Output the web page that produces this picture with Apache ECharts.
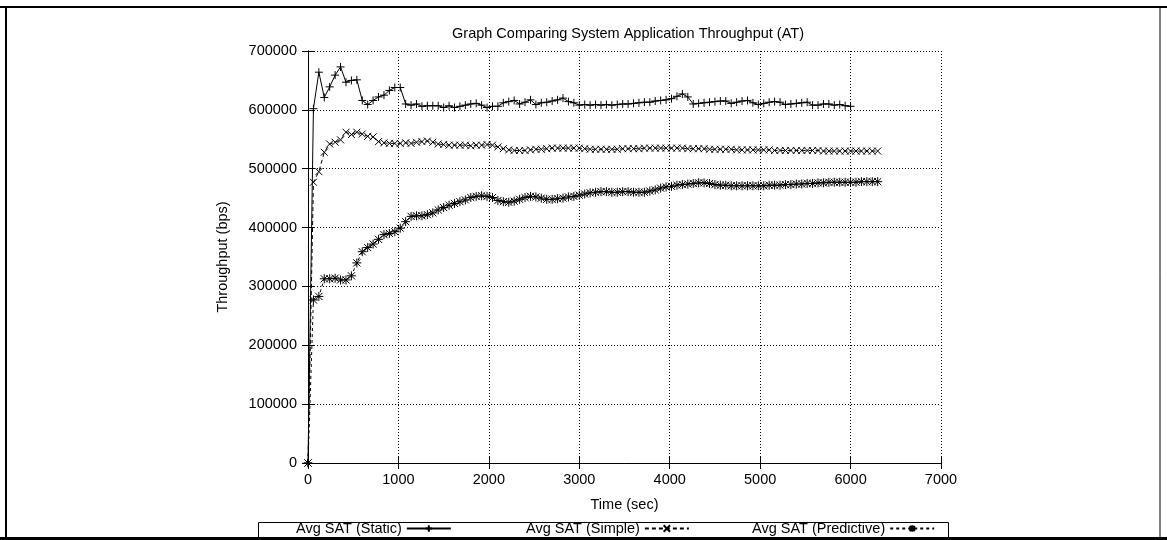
<!DOCTYPE html>
<html>
<head>
<meta charset="utf-8">
<script src="https://cdn.jsdelivr.net/npm/echarts@6/dist/echarts.min.js"></script>
<style>
html,body{margin:0;padding:0;background:#fff}
#main{width:1167px;height:540px}
</style>
</head>
<body>
<div id="main"></div>
<script>
// sample times (sec)
var timeSec = [0,60,120,180,240,300,360,420,480,540,600,660,720,780,840,900,960,1020,1080,1140,
  1200,1260,1320,1380,1440,1500,1560,1620,1680,1740,1800,1860,1920,1980,2040,2100,2160,2220,2280,2340,
  2400,2460,2520,2580,2640,2700,2760,2820,2880,2940,3000,3060,3120,3180,3240,3300,3360,3420,3480,3540,
  3600,3660,3720,3780,3840,3900,3960,4020,4080,4140,4200,4260,4320,4380,4440,4500,4560,4620,4680,4740,
  4800,4860,4920,4980,5040,5100,5160,5220,5280,5340,5400,5460,5520,5580,5640,5700,5760,5820,5880,5940,
  6000,6060,6120,6180,6240,6300];

var staticSAT = [0,602000,664000,621000,639000,659000,673000,647000,650000,651000,616000,609000,616000,622000,625000,633000,638000,638000,610000,608000,
  610000,606000,607000,607000,607000,604000,607000,604000,606000,608000,610000,611000,608000,604000,606000,606000,612000,614000,616000,610000,
  613000,617000,609000,612000,613000,615000,617000,620000,614000,612000,608000,609000,608000,609000,608000,609000,608000,609000,610000,610000,
  611000,612000,613000,613000,615000,616000,617000,619000,623000,627000,622000,610000,611000,612000,613000,614000,615000,615000,611000,613000,
  615000,616000,612000,609000,611000,613000,614000,613000,609000,610000,611000,612000,613000,608000,608000,610000,610000,608000,609000,607000,
  606000];

var simpleSAT = [0,477000,495000,528000,542000,545000,549000,562000,558000,562000,559000,555000,554000,546000,544000,543000,543000,543000,544000,543000,
  545000,546000,547000,545000,542000,541000,540000,540000,540000,540000,539000,540000,540000,541000,540000,537000,534000,532000,531000,531000,
  531000,532000,533000,533000,534000,535000,535000,535000,535000,535000,535000,534000,533000,533000,533000,533000,533000,533000,534000,534000,
  534000,534000,535000,535000,535000,535000,535000,535000,535000,535000,534000,534000,534000,534000,533000,533000,533000,533000,533000,532000,
  532000,532000,532000,532000,532000,532000,531000,531000,531000,531000,531000,531000,531000,531000,531000,530000,530000,530000,530000,530000,
  530000,530000,530000,530000,530000,530000];

var predictiveSAT = [0,277000,283000,313000,313000,314000,311000,311000,318000,340000,359000,366000,372000,380000,388000,390000,393000,399000,410000,419000,
  420000,420000,422000,425000,430000,434000,438000,441000,444000,447000,451000,453000,454000,453000,451000,446000,444000,443000,445000,448000,
  451000,453000,452000,450000,448000,448000,449000,450000,452000,453000,455000,457000,459000,460000,461000,461000,460000,460000,461000,461000,
  460000,460000,460000,462000,464000,467000,469000,470000,472000,473000,474000,475000,476000,476000,475000,473000,472000,472000,471000,471000,
  471000,471000,471000,471000,471000,472000,472000,472000,473000,473000,474000,474000,475000,475000,476000,476000,477000,477000,477000,477000,
  477000,477000,478000,478000,478000,478000];

var seriesNames = ['Avg SAT (Static)', 'Avg SAT (Simple)', 'Avg SAT (Predictive)'];

function pairs(vals) {
  return vals.map(function (v, i) { return [timeSec[i], v]; });
}

var FONT = 'Liberation Sans';
var FS = 14.5;
var plusSym = 'path://M0,5L10,5M5,0L5,10';
var crossSym = 'path://M0,0L10,10M10,0L0,10';
var starSym = 'path://M0,5L10,5M5,0L5,10M1,1L9,9M9,1L1,9';

var chart = echarts.init(document.getElementById('main'));

function mkSeries(name, vals, sym, size, dash) {
  return {
    name: name,
    type: 'line',
    data: pairs(vals),
    symbol: sym,
    symbolSize: size,
    showAllSymbol: true,
    animation: false,
    lineStyle: { color: '#000', width: 1, type: dash },
    itemStyle: { color: '#000', borderColor: '#000', borderWidth: 1 }
  };
}

function mkLegend(name, left) {
  return {
    data: [name],
    left: left,
    top: 521,
    align: 'right',
    itemWidth: 44,
    itemHeight: 8,
    padding: 0,
    textStyle: { fontFamily: FONT, fontSize: FS, color: '#000' }
  };
}

function plain(v) { return String(v); }

var option = {
  backgroundColor: '#fff',
  animation: false,
  title: {
    text: 'Graph Comparing System Application Throughput (AT)',
    left: 623,
    textAlign: 'center',
    top: 21,
    textStyle: { fontFamily: FONT, fontSize: FS, fontWeight: 'normal', color: '#000' }
  },
  legend: [
    mkLegend(seriesNames[0], 296),
    mkLegend(seriesNames[1], 526),
    mkLegend(seriesNames[2], 752)
  ],
  grid: { left: 308, right: 226, top: 51, bottom: 77, containLabel: false },
  xAxis: [{
    type: 'value', min: 0, max: 7000, interval: 1000,
    name: 'Time (sec)', nameLocation: 'middle', nameGap: 34,
    nameTextStyle: { fontFamily: FONT, fontSize: FS, color: '#000' },
    axisLine: { lineStyle: { color: '#000', width: 1 } },
    axisTick: { inside: true, length: 6, lineStyle: { color: '#000' } },
    axisLabel: { fontFamily: FONT, fontSize: FS, color: '#000', margin: 9, formatter: plain },
    splitLine: { show: true, lineStyle: { color: '#000', type: [1, 2], width: 1 } }
  }, {
    type: 'value', position: 'top', min: 0, max: 7000, interval: 1000,
    axisLine: { lineStyle: { color: '#000', width: 1 } },
    axisTick: { inside: true, length: 6, lineStyle: { color: '#000' } },
    axisLabel: { show: false }, splitLine: { show: false }
  }],
  yAxis: [{
    type: 'value', min: 0, max: 700000, interval: 100000,
    name: 'Throughput (bps)', nameLocation: 'middle', nameGap: 78, nameRotate: 90,
    nameTextStyle: { fontFamily: FONT, fontSize: FS, color: '#000' },
    axisLine: { show: true, lineStyle: { color: '#000', width: 1 } },
    axisTick: { show: true, inside: true, length: 6, lineStyle: { color: '#000' } },
    axisLabel: { fontFamily: FONT, fontSize: FS, color: '#000', margin: 11, formatter: plain },
    splitLine: { show: true, lineStyle: { color: '#000', type: [1, 2], width: 1 } }
  }, {
    type: 'value', position: 'right', min: 0, max: 700000, interval: 100000,
    axisLine: { show: true, lineStyle: { color: '#000', width: 1 } },
    axisTick: { show: true, inside: true, length: 6, lineStyle: { color: '#000' } },
    axisLabel: { show: false }, splitLine: { show: false }
  }],
  graphic: [
    { type: 'line', shape: { x1: 0, y1: 7, x2: 1167, y2: 7 }, style: { stroke: '#000', lineWidth: 2 } },
    { type: 'line', shape: { x1: 6, y1: 7, x2: 6, y2: 540 }, style: { stroke: '#000', lineWidth: 2 } },
    { type: 'line', shape: { x1: 1160, y1: 7, x2: 1160, y2: 540 }, style: { stroke: '#000', lineWidth: 1 } },
    { type: 'line', shape: { x1: 0, y1: 538.5, x2: 1167, y2: 538.5 }, style: { stroke: '#000', lineWidth: 3 } },
    { type: 'rect', shape: { x: 258.5, y: 522.5, width: 690, height: 16 }, style: { fill: 'none', stroke: '#000', lineWidth: 1 } }
  ],
  series: [
    mkSeries(seriesNames[0], staticSAT, plusSym, 8, 'solid'),
    mkSeries(seriesNames[1], simpleSAT, crossSym, 7, [4, 3]),
    mkSeries(seriesNames[2], predictiveSAT, starSym, 9, [3, 3])
  ]
};

chart.setOption(option);
</script>
</body>
</html>
